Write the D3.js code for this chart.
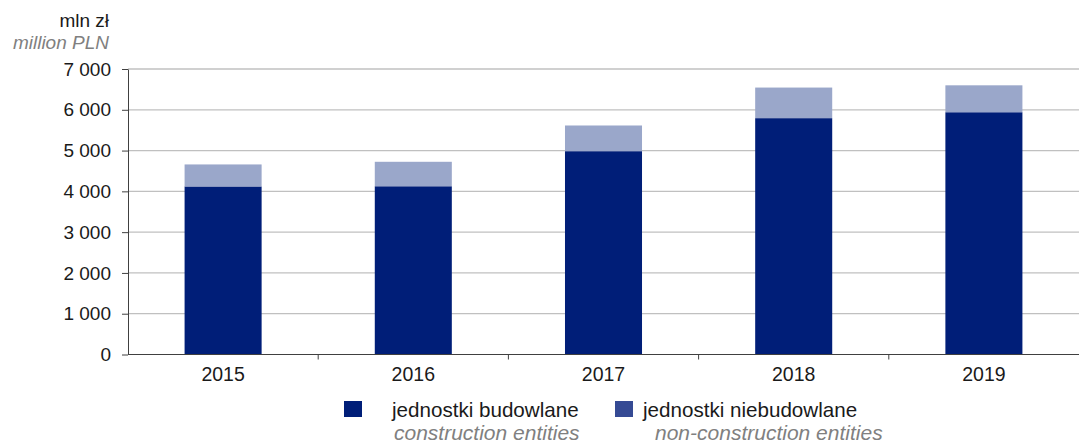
<!DOCTYPE html>
<html><head><meta charset="utf-8">
<script src="https://cdn.jsdelivr.net/npm/d3@7"></script>
<style>body{margin:0;background:#fff}svg{display:block;font-family:"Liberation Sans",Arial,sans-serif}</style>
</head><body>
<svg id="c" width="1079" height="442"></svg>
<script>
const years = ["2015","2016","2017","2018","2019"];
const construction = [4120, 4125, 4985, 5795, 5940];
const nonConstruction = [540, 600, 630, 750, 660];
const yTicks = [0,1000,2000,3000,4000,5000,6000,7000];
const seriesNames = ["jednostki budowlane","jednostki niebudowlane"];
const seriesNamesEn = ["construction entities","non-construction entities"];
const barColors = ["#001e78","#9aa7ca"];
const legendColors = ["#001e78","#354a94"];

const svg = d3.select("#c");
const m = {l:128, r:1079, t:69, b:354.5};
const x = d3.scaleBand().domain(years).range([m.l, m.r]).paddingInner(0.595).paddingOuter(0.2975);
const y = d3.scaleLinear().domain([0,7000]).range([m.b, m.t]);
const fmt = v => d3.format(",")(v).replace(/,/g, "\u00a0");
const FS = 19;

// gridlines
svg.append("g").selectAll("line").data(yTicks.filter(d=>d>0)).join("line")
  .attr("x1", m.l).attr("x2", m.r).attr("y1", d=>y(d)).attr("y2", d=>y(d))
  .attr("stroke", "#c0c0c0").attr("stroke-width", 1.3);

// bars
const data = years.map((yr,i)=>({year:yr, c:construction[i], n:nonConstruction[i]}));
const stack = d3.stack().keys(["c","n"])(data);
svg.append("g").selectAll("g").data(stack).join("g")
  .attr("fill", (d,i)=>barColors[i])
  .selectAll("rect").data(d=>d).join("rect")
  .attr("x", d=>x(d.data.year)).attr("width", x.bandwidth())
  .attr("y", d=>y(d[1])).attr("height", d=>y(d[0])-y(d[1]));

// y axis
const ya = svg.append("g").attr("transform", `translate(${m.l},0)`)
  .call(d3.axisLeft(y).tickValues(yTicks).tickFormat(fmt).tickSizeInner(6).tickSizeOuter(0).tickPadding(11));
ya.select(".domain").attr("stroke", "#404040");
ya.selectAll(".tick line").attr("stroke", "#404040");
ya.selectAll("text").attr("font-size", FS).attr("fill", "#1a1a1a").attr("font-family", "Liberation Sans, Arial, sans-serif");

// x axis
const xa = svg.append("g").attr("transform", `translate(0,${m.b})`)
  .call(d3.axisBottom(x).tickSize(0).tickPadding(13));
xa.select(".domain").remove();
xa.selectAll("text").attr("font-size", 19.5).attr("fill", "#1a1a1a").attr("font-family", "Liberation Sans, Arial, sans-serif");
svg.append("line").attr("x1", m.l).attr("x2", m.r).attr("y1", m.b).attr("y2", m.b).attr("stroke", "#404040");
svg.append("g").selectAll("line").data(d3.range(1, years.length)).join("line")
  .attr("x1", i=>m.l + i*(m.r-m.l)/years.length).attr("x2", i=>m.l + i*(m.r-m.l)/years.length)
  .attr("y1", m.b).attr("y2", m.b+5).attr("stroke", "#404040");

// unit labels
svg.append("text").attr("x", 109).attr("y", 27).attr("text-anchor","end").attr("font-size",FS).attr("fill","#1a1a1a").text("mln zł");
svg.append("text").attr("x", 109).attr("y", 49).attr("text-anchor","end").attr("font-size",FS).attr("font-style","italic").attr("fill","#808080").text("million PLN");

// legend
const lx = [344, 615], tx = [392, 643], ix = [394, 655];
seriesNames.forEach((s,i)=>{
  svg.append("rect").attr("x", lx[i]).attr("y", 401).attr("width", 18).attr("height", 16).attr("fill", legendColors[i]);
  svg.append("text").attr("x", tx[i]).attr("y", 417).attr("font-size",20.6).attr("fill","#1a1a1a").text(s);
  svg.append("text").attr("x", ix[i]).attr("y", 439.5).attr("font-size",21).attr("font-style","italic").attr("fill","#808080").text(seriesNamesEn[i]);
});
</script>
</body></html>
